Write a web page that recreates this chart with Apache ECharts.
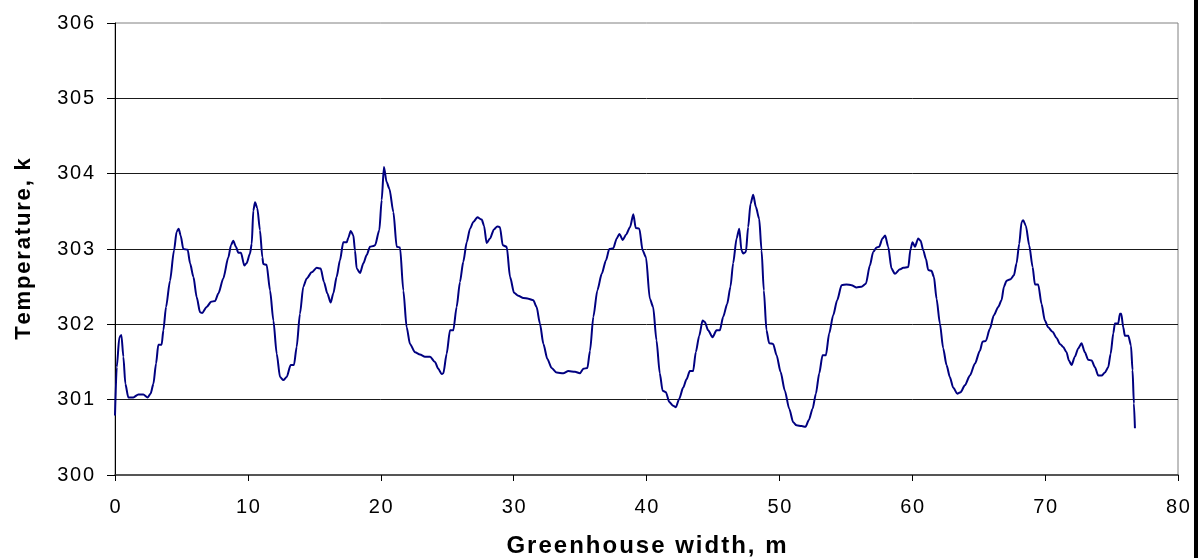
<!DOCTYPE html>
<html>
<head>
<meta charset="utf-8">
<script src="https://cdn.jsdelivr.net/npm/echarts@6/dist/echarts.min.js"></script>
<style>
html,body{margin:0;padding:0;background:#fff;}
#chart{width:1200px;height:558px;}
</style>
</head>
<body>
<div id="chart"></div>
<script>
// Greenhouse width (m)
const widthM = [
0, 0.13, 0.33, 0.48, 0.63, 0.78, 1.0, 1.38, 1.76, 2.13, 2.46, 2.68, 2.89, 3.09, 3.26, 3.51, 3.64, 3.84, 4.14, 4.44,
4.64, 4.79, 4.94, 5.14, 5.47, 5.65, 5.9, 6.15, 6.4, 6.55, 6.9, 7.23, 7.53, 7.78, 8.15, 8.53, 8.73, 8.9, 9.1, 9.28,
9.48, 9.73, 9.9, 10.16, 10.29, 10.41, 10.54, 10.71, 10.91, 11.09, 11.16, 11.41, 11.67, 11.92, 12.17, 12.42, 12.67, 12.92, 13.22, 13.47,
13.67, 13.92, 14.17, 14.43, 14.8, 15.18, 15.48, 15.73, 15.98, 16.23, 16.43, 16.68, 16.93, 17.18, 17.44, 17.56, 17.74, 17.94, 18.06, 18.19,
18.44, 18.69, 18.94, 19.19, 19.44, 19.57, 19.89, 20.07, 20.24, 20.44, 20.65, 20.95, 21.2, 21.45, 21.7, 21.95, 22.2, 22.58, 22.95, 23.33,
23.71, 24.08, 24.33, 24.58, 24.71, 24.96, 25.21, 25.46, 25.71, 25.96, 26.21, 26.47, 26.72, 26.97, 27.27, 27.6, 27.77, 27.97, 28.22, 28.52,
28.77, 28.97, 29.18, 29.48, 29.73, 30.03, 30.35, 30.73, 31.11, 31.48, 31.73, 31.98, 32.24, 32.54, 32.86, 33.24, 33.74, 34.12, 34.62, 34.99,
35.25, 35.55, 35.75, 36.0, 36.3, 36.63, 36.95, 37.2, 37.5, 37.76, 37.96, 38.21, 38.46, 38.76, 39.01, 39.19, 39.46, 39.71, 39.96, 40.25,
40.5, 40.75, 41.0, 41.21, 41.46, 41.71, 42.01, 42.21, 42.46, 42.76, 43.01, 43.26, 43.51, 43.71, 43.97, 44.22, 44.39, 44.64, 44.97, 45.27,
45.52, 45.77, 46.07, 46.32, 46.52, 46.78, 46.98, 47.15, 47.28, 47.48, 47.65, 47.83, 48.03, 48.23, 48.48, 48.66, 48.83, 49.03, 49.23, 49.53,
49.79, 50.09, 50.41, 50.74, 51.04, 51.29, 51.67, 51.97, 52.22, 52.5, 52.75, 53.0, 53.25, 53.5, 53.75, 54.05, 54.35, 54.68, 55.05, 55.43,
55.81, 56.18, 56.51, 56.81, 57.06, 57.31, 57.51, 57.76, 57.96, 58.19, 58.44, 58.69, 59.07, 59.32, 59.7, 59.87, 60.02, 60.2, 60.45, 60.63,
60.83, 61.03, 61.2, 61.45, 61.63, 61.83, 62.08, 62.33, 62.58, 62.83, 63.08, 63.39, 63.64, 63.96, 64.34, 64.72, 65.09, 65.29, 65.54, 65.84,
66.14, 66.47, 66.72, 66.9, 67.1, 67.4, 67.65, 67.85, 68.05, 68.23, 68.35, 68.55, 68.8, 69.06, 69.23, 69.48, 69.73, 69.98, 70.23, 70.56,
70.86, 71.11, 71.36, 71.61, 71.79, 71.99, 72.24, 72.49, 72.74, 72.99, 73.24, 73.5, 73.75, 74.0, 74.25, 74.5, 74.75, 74.93, 75.13, 75.25,
75.5, 75.63, 75.73, 75.88, 76.0, 76.26, 76.46, 76.58, 76.68, 76.76
];
// Temperature (K)
const tempK = [
300.79, 301.43, 301.83, 301.86, 301.57, 301.21, 301.03, 301.03, 301.07, 301.07, 301.03, 301.08, 301.21, 301.48, 301.73, 301.73, 301.92, 302.23, 302.58, 302.98,
303.23, 303.27, 303.18, 303.0, 302.99, 302.81, 302.63, 302.36, 302.16, 302.15, 302.23, 302.3, 302.31, 302.41, 302.61, 302.89, 303.05, 303.11, 303.03, 302.95,
302.95, 302.78, 302.81, 302.94, 303.07, 303.51, 303.62, 303.54, 303.25, 302.89, 302.8, 302.79, 302.45, 302.05, 301.61, 301.3, 301.26, 301.3, 301.46, 301.46,
301.7, 302.14, 302.5, 302.61, 302.69, 302.75, 302.74, 302.56, 302.41, 302.29, 302.41, 302.63, 302.85, 303.09, 303.09, 303.15, 303.24, 303.18, 302.98, 302.74,
302.68, 302.81, 302.92, 303.03, 303.04, 303.05, 303.25, 303.65, 304.09, 303.89, 303.8, 303.49, 303.03, 303.02, 302.45, 301.96, 301.74, 301.63, 301.6, 301.57,
301.57, 301.5, 301.41, 301.34, 301.35, 301.61, 301.92, 301.92, 302.23, 302.56, 302.83, 303.09, 303.27, 303.36, 303.42, 303.39, 303.31, 303.08, 303.14, 303.26,
303.3, 303.29, 303.05, 303.03, 302.63, 302.42, 302.38, 302.35, 302.34, 302.32, 302.23, 302.01, 301.74, 301.54, 301.42, 301.36, 301.35, 301.38, 301.37, 301.35,
301.41, 301.42, 301.65, 302.1, 302.45, 302.67, 302.85, 303.0, 303.01, 303.14, 303.2, 303.12, 303.19, 303.29, 303.46, 303.28, 303.27, 302.98, 302.89, 302.34,
302.23, 301.79, 301.35, 301.12, 301.1, 300.97, 300.92, 300.9, 301.01, 301.16, 301.27, 301.38, 301.38, 301.63, 301.85, 302.05, 302.03, 301.92, 301.83, 301.92,
301.92, 302.1, 302.27, 302.5, 302.81, 303.14, 303.27, 302.98, 302.94, 302.96, 303.29, 303.6, 303.72, 303.56, 303.4, 302.98, 302.45, 301.92, 301.75, 301.74,
301.59, 301.37, 301.12, 300.88, 300.7, 300.66, 300.65, 300.64, 300.73, 300.88, 301.08, 301.35, 301.59, 301.59, 301.88, 302.12, 302.32, 302.52, 302.53, 302.52,
302.49, 302.5, 302.54, 302.78, 302.96, 303.02, 303.03, 303.14, 303.18, 303.03, 302.74, 302.67, 302.73, 302.75, 302.76, 303.0, 303.09, 303.03, 303.14, 303.11,
302.98, 302.87, 302.72, 302.71, 302.63, 302.34, 302.01, 301.68, 301.46, 301.3, 301.16, 301.08, 301.1, 301.19, 301.32, 301.48, 301.65, 301.77, 301.78, 301.94,
302.12, 302.23, 302.32, 302.5, 302.58, 302.6, 302.65, 302.81, 303.07, 303.36, 303.38, 303.31, 303.05, 302.76, 302.53, 302.53, 302.27, 302.05, 301.96, 301.9,
301.82, 301.74, 301.7, 301.63, 301.52, 301.46, 301.57, 301.68, 301.75, 301.63, 301.53, 301.52, 301.43, 301.32, 301.32, 301.36, 301.43, 301.61, 301.88, 302.01,
302.01, 302.14, 302.14, 301.96, 301.85, 301.85, 301.72, 301.39, 300.95, 300.62
];
const xTitle = 'Greenhouse width, m';
const yTitle = 'Temperature, k';
const xMin = 0, xMax = 80, xStep = 10;
const yMin = 300, yMax = 306, yStep = 1;

// letter-spaced text helper (hair spaces between glyphs)
function spaced(s, sep) { return s.split('').join(sep); }
const HS = '\u200A';

const seriesData = widthM.map((w, i) => [w, tempK[i]]);

const chart = echarts.init(document.getElementById('chart'), null, {renderer: 'canvas'});
const FONT = '"Liberation Sans", Arial, sans-serif';
chart.setOption({
  animation: false,
  backgroundColor: '#ffffff',
  grid: {
    left: 115, right: 22, top: 23, bottom: 83,
    outerBoundsMode: 'none', containLabel: false,
    show: true, borderColor: '#808080', borderWidth: 1, backgroundColor: 'transparent'
  },
  xAxis: {
    type: 'value', min: xMin, max: xMax, interval: xStep,
    name: spaced(xTitle, HS), nameLocation: 'middle', nameGap: 59,
    nameTextStyle: {fontFamily: FONT, fontSize: 24, fontWeight: 'bold', color: '#000'},
    axisLine: {show: true, lineStyle: {color: '#333', width: 1.5}},
    axisTick: {show: true, inside: false, length: 6, lineStyle: {color: '#000'}},
    axisLabel: {fontFamily: FONT, fontSize: 20, color: '#000', margin: 22,
      formatter: v => spaced(String(v), HS)},
    splitLine: {show: false}
  },
  yAxis: {
    type: 'value', min: yMin, max: yMax, interval: yStep,
    name: spaced(yTitle, HS), nameLocation: 'middle', nameGap: 80, nameRotate: 90,
    nameTextStyle: {fontFamily: FONT, fontSize: 22, fontWeight: 'bold', color: '#000'},
    axisLine: {show: true, lineStyle: {color: '#000', width: 1}},
    axisTick: {show: true, inside: false, length: 8, lineStyle: {color: '#000'}},
    axisLabel: {fontFamily: FONT, fontSize: 20, color: '#000', margin: 21,
      formatter: v => spaced(String(v), HS)},
    splitLine: {show: true, showMinLine: false, showMaxLine: false, lineStyle: {color: '#1a1a1a', width: 1}}
  },
  series: [{
    type: 'line',
    data: seriesData,
    showSymbol: false,
    smooth: 0.25,
    smoothMonotone: 'x',
    lineStyle: {color: '#000080', width: 2},
    itemStyle: {color: '#000080'}
  }],
  graphic: [{
    type: 'rect', left: 1194, top: 0,
    shape: {width: 4, height: 558},
    style: {fill: '#000'}
  }]
});
</script>
</body>
</html>
